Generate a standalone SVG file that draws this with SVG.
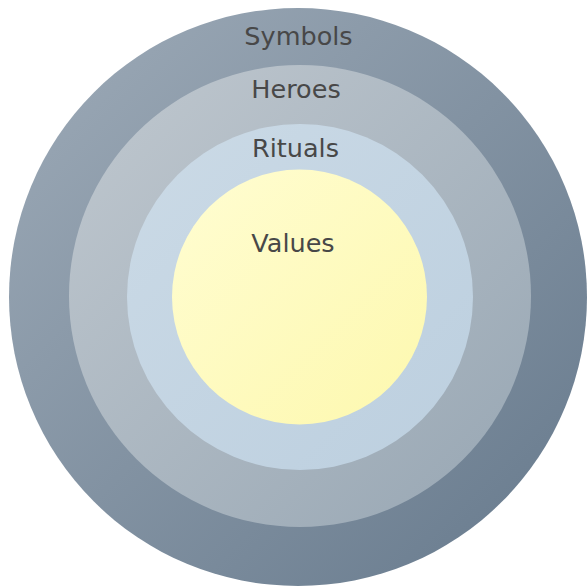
<svg xmlns="http://www.w3.org/2000/svg" width="587" height="588" viewBox="0 0 587 588">
<defs>
<linearGradient id="g1" x1="0" y1="0" x2="1" y2="1"><stop offset="0" stop-color="#9eabb8"/><stop offset="1" stop-color="#66798c"/></linearGradient>
<linearGradient id="g2" x1="0" y1="0" x2="1" y2="1"><stop offset="0" stop-color="#c0c8cf"/><stop offset="1" stop-color="#97a6b3"/></linearGradient>
<linearGradient id="g3" x1="0" y1="0" x2="1" y2="1"><stop offset="0" stop-color="#cbdae6"/><stop offset="1" stop-color="#bccfdf"/></linearGradient>
<linearGradient id="g4" x1="0" y1="0" x2="1" y2="1"><stop offset="0" stop-color="#fffdd2"/><stop offset="1" stop-color="#fdf8ae"/></linearGradient>
</defs>
<style>
text{font-family:"DejaVu Sans",Verdana,sans-serif;font-size:25.5px;fill:#484848;text-anchor:middle}
</style>
<rect width="587" height="588" fill="#ffffff"/>
<g id="symbols"><circle cx="298" cy="297" r="289" fill="url(#g1)"/><text x="298.5" y="45">Symbols</text></g>
<g id="heroes"><circle cx="300" cy="296" r="231" fill="url(#g2)"/><text x="296" y="98">Heroes</text></g>
<g id="rituals"><circle cx="300" cy="297" r="173" fill="url(#g3)"/><text x="295.5" y="157">Rituals</text></g>
<g id="values"><circle cx="299.5" cy="297" r="127.5" fill="url(#g4)"/><text x="293" y="252">Values</text></g>
<g id="connectors"/>
</svg>
